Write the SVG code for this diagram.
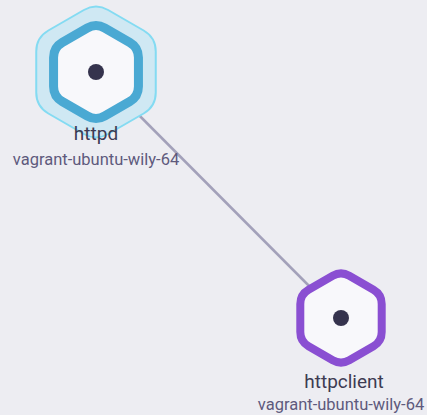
<svg xmlns="http://www.w3.org/2000/svg" width="427" height="415" viewBox="0 0 427 415">
  <defs>
    <style>
      .bg { fill: #ededf2; }
      .edge { stroke: #a3a1ba; stroke-width: 2.5; fill: none; }
      .halo { fill: #cfe8f3; stroke: #84dbf2; stroke-width: 2; }
      .ring { fill: #f8f8fb; stroke-width: 9; }
      .ring.blue { stroke: #4aa9d3; }
      .ring.purple { stroke: #8a4fd2; stroke-width: 8; }
      .dot { fill: #35334d; }
      .title { font-family: Roboto, "Liberation Sans", sans-serif; font-size: 19px; fill: #3d3b52; text-anchor: middle; }
      .sub { font-family: Roboto, "Liberation Sans", sans-serif; font-size: 16.5px; fill: #5e5a7d; text-anchor: middle; }
    </style>
  </defs>

  <rect class="bg" x="0" y="0" width="427" height="415"/>

  <g id="connectors">
    <line class="edge" x1="96" y1="72" x2="341" y2="318"/>
  </g>

  <g id="node-httpd" transform="translate(96,72)">
    <path class="halo" d="M 12.12,-62 L 47.64,-41.5 Q 59.76,-34.5 59.76,-20.5 L 59.76,20.5 Q 59.76,34.5 47.64,41.5 L 12.12,62 Q 0,69 -12.12,62 L -47.64,41.5 Q -59.76,34.5 -59.76,20.5 L -59.76,-20.5 Q -59.76,-34.5 -47.64,-41.5 L -12.12,-62 Q 0,-69 12.12,-62 Z"/>
    <path class="ring blue" d="M 8.66,-44 L 33.78,-29.5 Q 42.44,-24.5 42.44,-14.5 L 42.44,14.5 Q 42.44,24.5 33.78,29.5 L 8.66,44 Q 0,49 -8.66,44 L -33.78,29.5 Q -42.44,24.5 -42.44,14.5 L -42.44,-14.5 Q -42.44,-24.5 -33.78,-29.5 L -8.66,-44 Q 0,-49 8.66,-44 Z"/>
    <circle class="dot" cx="0" cy="0" r="8"/>
    <text class="title" x="0" y="68">httpd</text>
    <text class="sub" x="0" y="93">vagrant-ubuntu-wily-64</text>
  </g>

  <g id="node-httpclient" transform="translate(341,318)">
    <path class="ring purple" d="M 8.23,-42.25 L 32.47,-28.25 Q 40.7,-23.5 40.7,-14 L 40.7,14 Q 40.7,23.5 32.47,28.25 L 8.23,42.25 Q 0,47 -8.23,42.25 L -32.47,28.25 Q -40.7,23.5 -40.7,14 L -40.7,-14 Q -40.7,-23.5 -32.47,-28.25 L -8.23,-42.25 Q 0,-47 8.23,-42.25 Z"/>
    <circle class="dot" cx="0" cy="0" r="8"/>
    <text class="title" x="3" y="70">httpclient</text>
    <text class="sub" x="0" y="92">vagrant-ubuntu-wily-64</text>
  </g>
</svg>
